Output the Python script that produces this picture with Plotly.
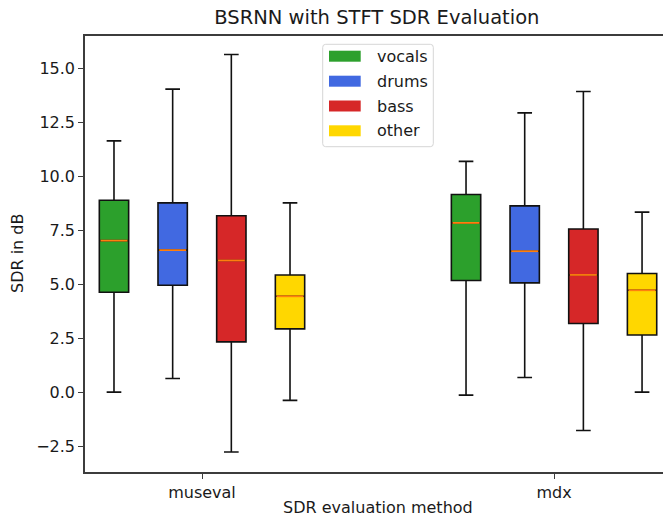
import plotly.graph_objects as go

# Evaluation methods (x groups) and separated stems (boxes within a group)
methods = ["museval", "mdx"]
stems = ["vocals", "drums", "bass", "other"]
stem_colors = ["#2ca02c", "#4169e1", "#d62728", "#ffd700"]

# Five-number summaries per stem, one row per method: [min, q1, median, q3, max] in dB
vocals_sdr = [[0.00, 4.63, 7.02, 8.89, 11.64],
              [-0.14, 5.17, 7.84, 9.16, 10.69]]
drums_sdr = [[0.63, 4.95, 6.58, 8.77, 14.04],
             [0.68, 5.06, 6.53, 8.63, 12.94]]
bass_sdr = [[-2.77, 2.33, 6.10, 8.17, 15.64],
            [-1.78, 3.18, 5.43, 7.56, 13.93]]
other_sdr = [[-0.38, 2.93, 4.44, 5.43, 8.77],
             [0.00, 2.65, 4.72, 5.50, 8.34]]

y_ticks = [-2.5, 0.0, 2.5, 5.0, 7.5, 10.0, 12.5, 15.0]

stem_stats = [vocals_sdr, drums_sdr, bass_sdr, other_sdr]

# Figure geometry (pixels)
W, H = 663, 519
L, R, T, B = 85, 663, 36, 472
FONT = "DejaVu Sans"
TEXT = "#1a1a1a"


def px(x):
    return (x - L) / (R - L)


def py(y):
    return (B - y) / (B - T)


group_centers = [0.0, 6.0]
box_w = 0.5

fig = go.Figure()
for i, (stem, color, stats) in enumerate(zip(stems, stem_colors, stem_stats)):
    xs = [c + (i - 1.5) for c in group_centers]
    fig.add_trace(go.Box(
        x=xs,
        lowerfence=[s[0] for s in stats],
        q1=[s[1] for s in stats],
        median=[s[2] for s in stats],
        q3=[s[3] for s in stats],
        upperfence=[s[4] for s in stats],
        width=box_w,
        whiskerwidth=0.5,
        fillcolor=color,
        line=dict(color="#111111", width=1.6),
        boxpoints=False,
        name=stem,
        showlegend=False,
        hoverinfo="skip",
    ))
    # orange median bars drawn on top of each box
    mx, my = [], []
    for x, s in zip(xs, stats):
        mx += [x - box_w / 2 + 0.02, x + box_w / 2 - 0.02, None]
        my += [s[2], s[2], None]
    fig.add_trace(go.Scatter(
        x=mx, y=my, mode="lines",
        line=dict(color="#ff7f0e", width=1.8),
        showlegend=False, hoverinfo="skip",
    ))

# Hand-built legend box (upper centre)
shapes = []
x0, x1, y0, y1, r = 322.7, 433.3, 44.3, 146.7, 3
path = (f"M {px(x0 + r)},{py(y0)} L {px(x1 - r)},{py(y0)} "
        f"Q {px(x1)},{py(y0)} {px(x1)},{py(y0 + r)} "
        f"L {px(x1)},{py(y1 - r)} Q {px(x1)},{py(y1)} {px(x1 - r)},{py(y1)} "
        f"L {px(x0 + r)},{py(y1)} Q {px(x0)},{py(y1)} {px(x0)},{py(y1 - r)} "
        f"L {px(x0)},{py(y0 + r)} Q {px(x0)},{py(y0)} {px(x0 + r)},{py(y0)} Z")
shapes.append(dict(type="path", xref="paper", yref="paper", path=path,
                   fillcolor="rgba(255,255,255,0.85)",
                   line=dict(color="#d6d6d6", width=1)))
annotations = []
row_centers = [56.2, 81.2, 106.0, 130.8]
for stem, color, yc in zip(stems, stem_colors, row_centers):
    shapes.append(dict(type="rect", xref="paper", yref="paper",
                       x0=px(329), x1=px(360.7), y0=py(yc + 5.5), y1=py(yc - 5.5),
                       fillcolor=color, line=dict(width=0)))
    annotations.append(dict(text=stem, xref="paper", yref="paper",
                            x=px(374.5), y=py(yc), xanchor="left", yanchor="middle",
                            showarrow=False, font=dict(family=FONT, size=16, color=TEXT)))

# Axis titles
annotations.append(dict(text="SDR in dB", xref="paper", yref="paper",
                        x=px(17), y=py(254), textangle=-90,
                        xanchor="center", yanchor="middle", showarrow=False,
                        font=dict(family=FONT, size=16, color=TEXT)))
annotations.append(dict(text="SDR evaluation method", xref="paper", yref="paper",
                        x=px(377.5), y=py(H - 0.5), xanchor="center", yanchor="bottom",
                        showarrow=False, font=dict(family=FONT, size=16, color=TEXT)))

axis_line = dict(showline=True, linecolor="#3c3c3c", linewidth=1.5,
                 ticks="outside", ticklen=5, tickwidth=1.3, tickcolor="#3c3c3c",
                 showgrid=False, zeroline=False,
                 tickfont=dict(family=FONT, size=16, color=TEXT))

fig.update_layout(
    width=W, height=H,
    margin=dict(l=L, r=W - R, t=T, b=H - B, pad=0),
    paper_bgcolor="white", plot_bgcolor="white",
    boxmode="overlay",
    showlegend=False,
    title=dict(text="BSRNN with STFT SDR Evaluation", xref="paper", x=0.505,
               yref="container", y=1 - 17 / H, xanchor="center", yanchor="middle",
               font=dict(family=FONT, size=19.5, color=TEXT)),
    xaxis=dict(range=[-1.994, 7.857], tickvals=group_centers, ticktext=methods,
               mirror=True, **axis_line),
    yaxis=dict(range=[-3.70, 16.50], tickvals=y_ticks, tickformat=".1f",
               mirror=False, **axis_line),
    shapes=shapes,
    annotations=annotations,
)

fig.write_html("out.html")
